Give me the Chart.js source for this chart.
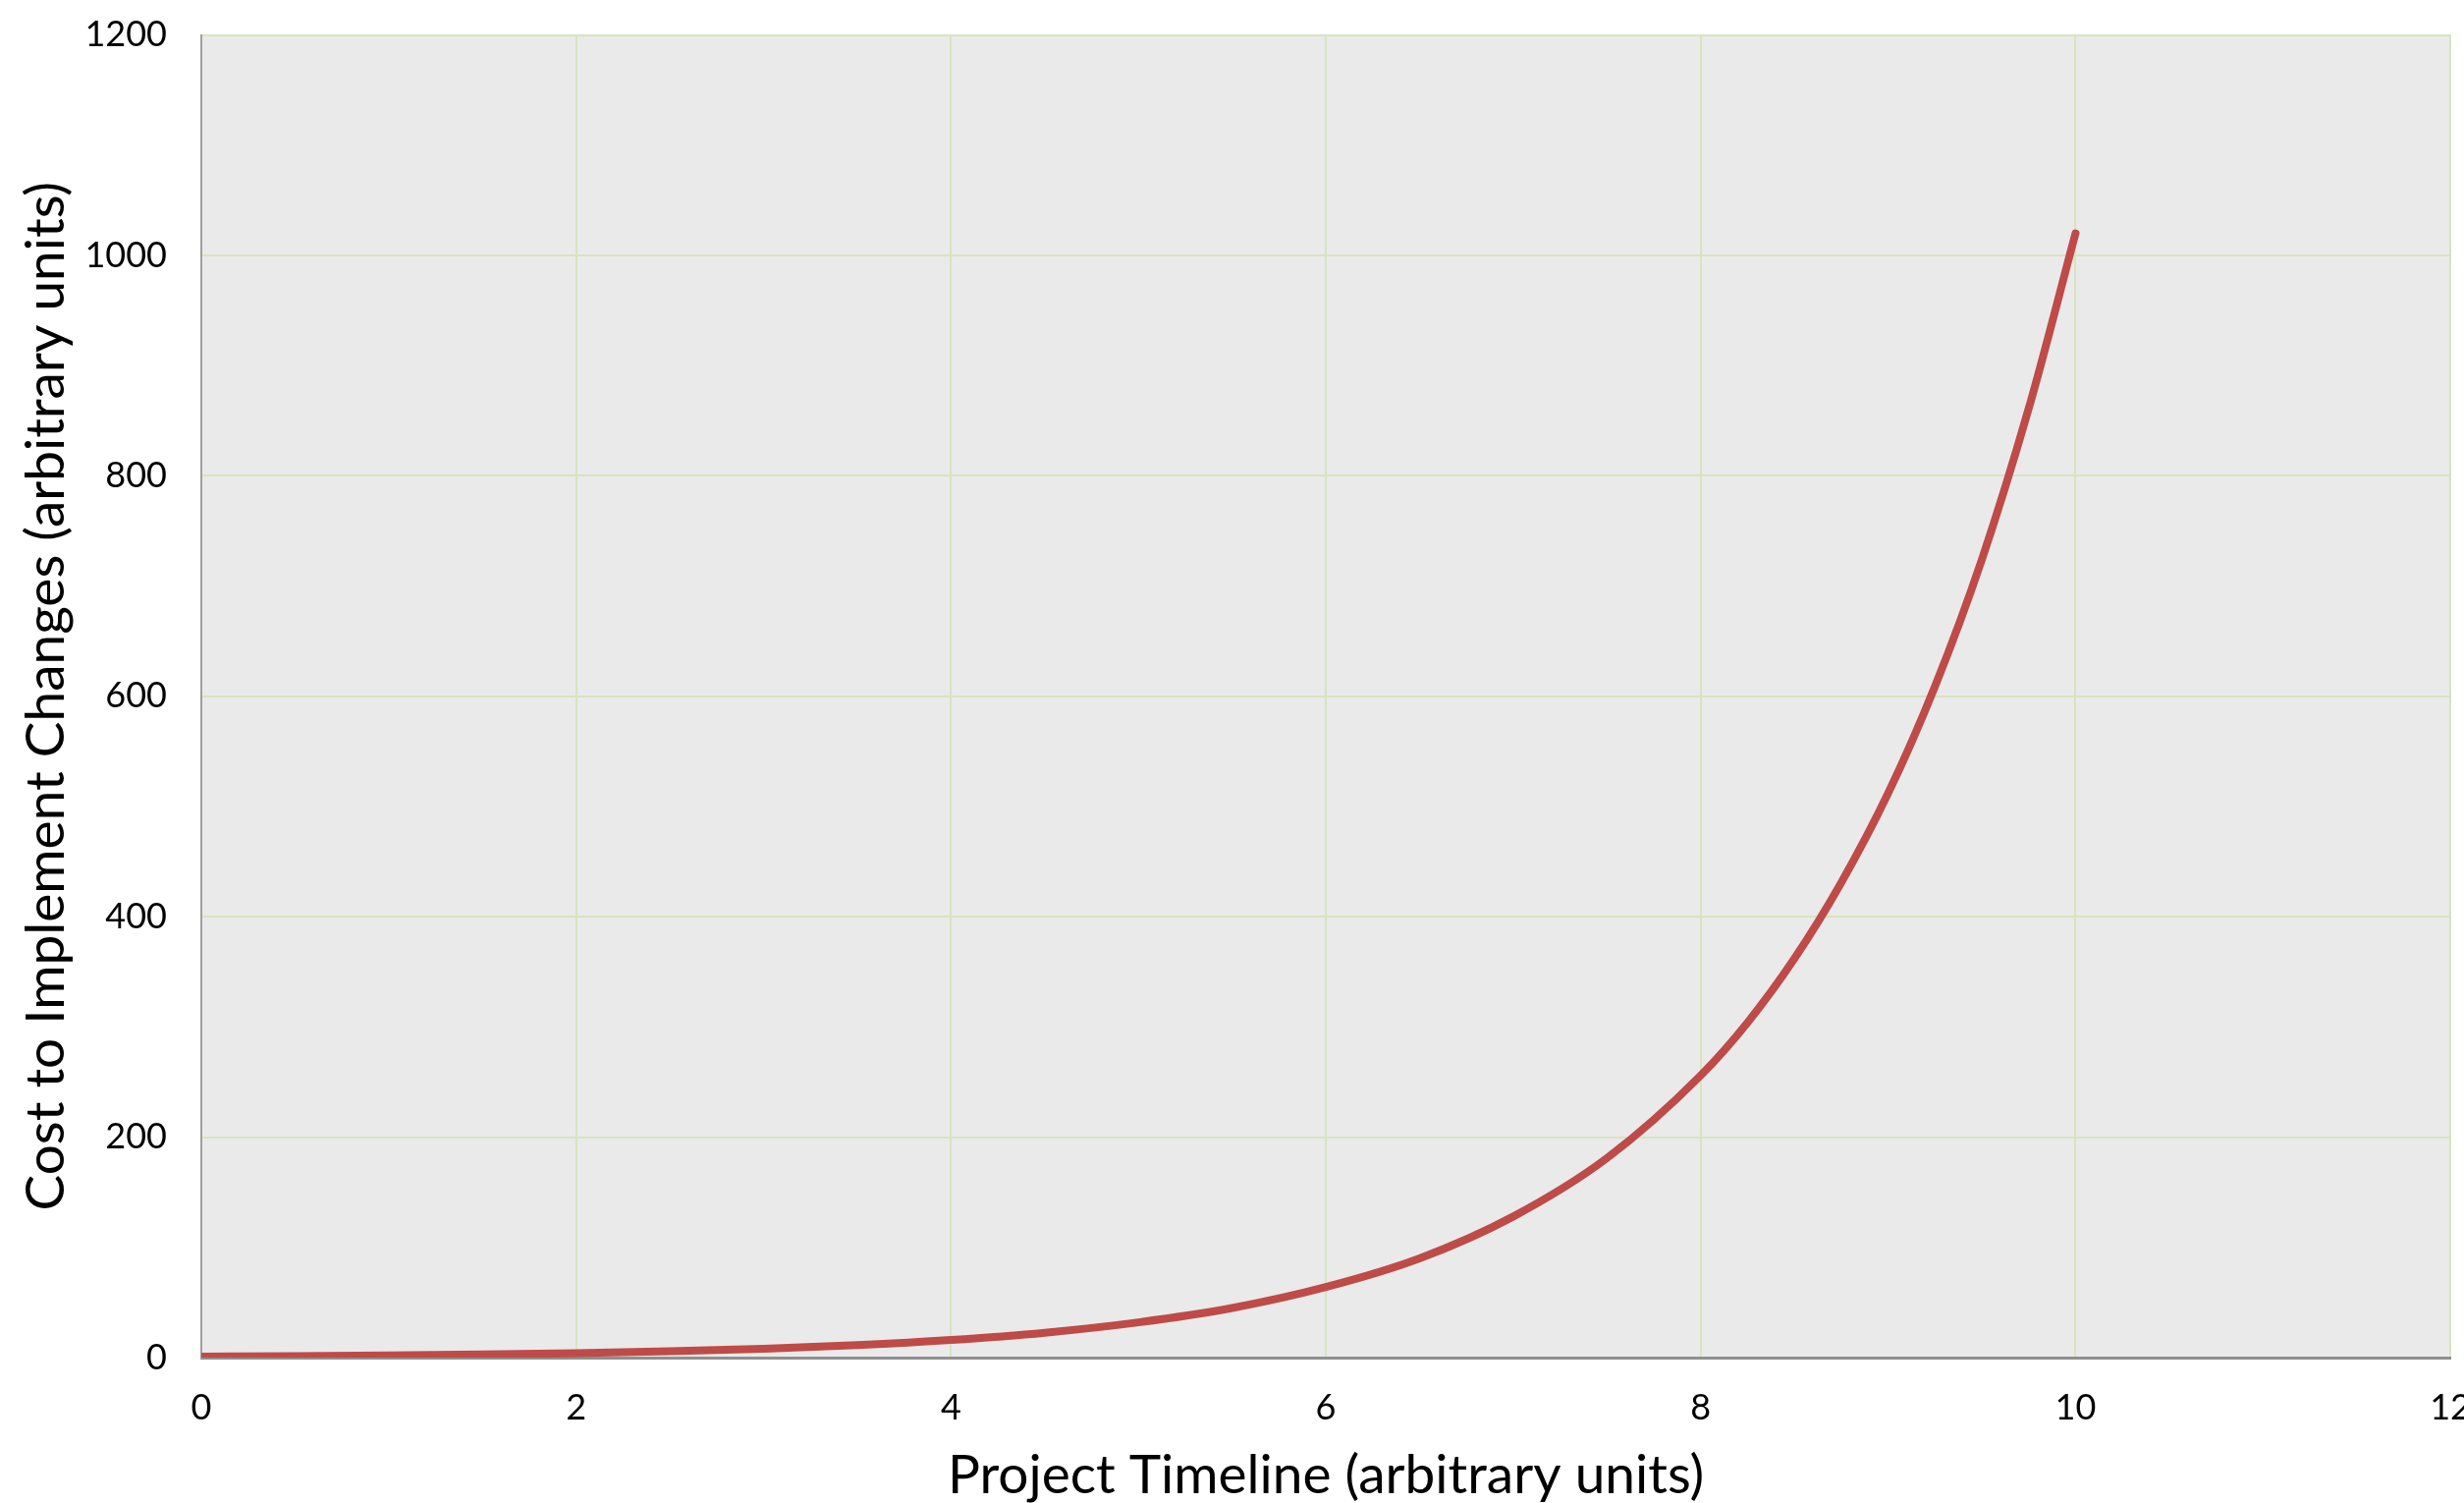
<!DOCTYPE html>
<html>
<head>
<meta charset="utf-8">
<title>Cost of change over the project timeline</title>
<script src="https://cdn.jsdelivr.net/npm/chart.js@4/dist/chart.umd.min.js"></script>
<style>
  html, body { margin: 0; padding: 0; background: #ffffff; overflow: hidden; }
  #wrap { position: absolute; left: 0; top: -21px; width: 2546px; height: 1584px; }
</style>
</head>
<body>
<div id="wrap"><canvas id="chart" width="2546" height="1584"></canvas></div>
<script>
// Project timeline positions (arbitrary units)
const timeline = [0, 0.5, 1, 1.5, 2, 2.5, 3, 3.5, 4, 4.5, 5, 5.5, 6, 6.5, 7, 7.5, 8, 8.25, 8.5, 8.75, 9, 9.25, 9.5, 9.75, 10];
// Cost to implement a change at each point (arbitrary units)
const cost = [1, 1.4, 2, 2.8, 4, 5.7, 8, 11.3, 16, 22.6, 32, 45, 64, 90, 128, 181, 256, 304, 362, 431, 512, 609, 724, 861, 1020];
// Axis tick values
const xTicks = [0, 2, 4, 6, 8, 10, 12];
const yTicks = [0, 200, 400, 600, 800, 1000, 1200];

const FONT = "Lato, 'Open Sans', 'Liberation Sans', sans-serif";
const GRID = '#d8e4bf';

const plotBackground = {
  id: 'plotBackground',
  beforeDraw(chart) {
    const a = chart.chartArea;
    const ctx = chart.ctx;
    ctx.save();
    ctx.fillStyle = '#eaeaea';
    ctx.fillRect(a.left, a.top, a.right - a.left, a.bottom - a.top);
    ctx.restore();
  }
};

const plain = v => String(v);

new Chart(document.getElementById('chart'), {
  type: 'line',
  data: {
    datasets: [{
      data: timeline.map((t, i) => ({ x: t, y: cost[i] })),
      borderColor: '#be4b48',
      borderWidth: 8,
      borderCapStyle: 'round',
      borderJoinStyle: 'round',
      cubicInterpolationMode: 'monotone',
      pointRadius: 0,
      fill: false
    }]
  },
  options: {
    responsive: false,
    animation: false,
    layout: { padding: { top: 12, right: 24, left: 0, bottom: 0 } },
    plugins: { legend: { display: false }, tooltip: { enabled: false } },
    scales: {
      x: {
        type: 'linear',
        min: 0,
        max: 12,
        afterBuildTicks(scale) { scale.ticks = xTicks.map(v => ({ value: v })); },
        afterFit(scale) { scale.height = 181; },
        grid: { color: GRID, lineWidth: 2, drawTicks: false },
        border: { color: '#8f8f8f', width: 3 },
        ticks: { color: '#000', padding: 30, font: { family: FONT, size: 36 }, callback: plain },
        title: {
          display: true,
          text: 'Project Timeline (arbitrary units)',
          color: '#000',
          font: { family: FONT, size: 55 },
          padding: { top: 0, bottom: 28 }
        }
      },
      y: {
        type: 'linear',
        min: 0,
        max: 1200,
        afterBuildTicks(scale) { scale.ticks = yTicks.map(v => ({ value: v })); },
        afterFit(scale) { scale.width = 205; },
        grid: { color: GRID, lineWidth: 2, drawTicks: false },
        border: { color: '#a0a0a0', width: 2 },
        ticks: { color: '#000', padding: 35, font: { family: FONT, size: 36 }, callback: plain },
        title: {
          display: true,
          text: 'Cost to Implement Changes (arbitrary units)',
          color: '#000',
          font: { family: FONT, size: 55 },
          padding: { top: 14, bottom: 0 }
        }
      }
    }
  },
  plugins: [plotBackground]
});
</script>
</body>
</html>
